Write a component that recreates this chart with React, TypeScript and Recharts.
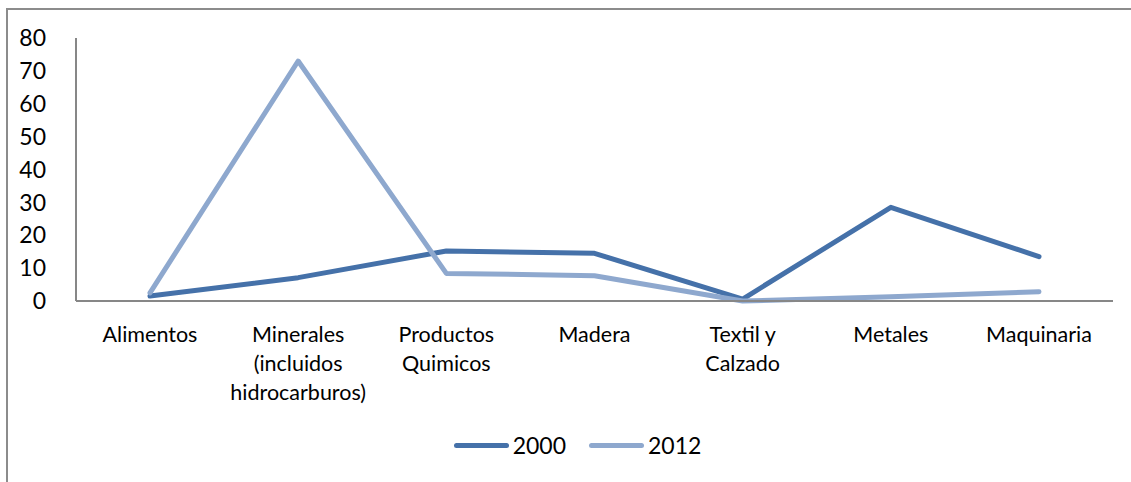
import React from 'react';
import { LineChart, Line, XAxis, YAxis } from 'recharts';

const categories = [
  'Alimentos',
  'Minerales\n(incluidos\nhidrocarburos)',
  'Productos\nQuimicos',
  'Madera',
  'Textil y\nCalzado',
  'Metales',
  'Maquinaria',
];
const values2000 = [1.5, 7.1, 15.2, 14.5, 0.6, 28.5, 13.5];
const values2012 = [2.5, 73, 8.4, 7.7, 0, 1.3, 2.8];
const yTicks = [0, 10, 20, 30, 40, 50, 60, 70, 80];

const seriesNames = ['2000', '2012'];
const colors = ['#4571A9', '#8EA8CE'];

const data = categories.map((name, i) => ({
  name,
  y2000: values2000[i],
  y2012: values2012[i],
}));

const FONT = 'Lato, "Open Sans", sans-serif';

const CategoryTick = ({ x, y, payload }: { x?: number; y?: number; payload?: { value: string } }) => {
  const lines = String(payload?.value ?? '').split('\n');
  return (
    <text x={x} y={(y ?? 0) + 33} textAnchor="middle" fontSize={21.5} fontFamily={FONT} fill="#000">
      {lines.map((l, i) => (
        <tspan key={`l-${i}`} x={x} dy={i === 0 ? 0 : 29}>
          {l}
        </tspan>
      ))}
    </text>
  );
};

// legend drawn as html under the plot
const ChartLegend = () => (
  <div
    style={{
      position: 'absolute', left: 0, top: 431, width: 1131,
      display: 'flex', justifyContent: 'center', alignItems: 'center',
      fontFamily: FONT, fontSize: 23, color: '#000', paddingLeft: 24, boxSizing: 'border-box',
    }}
  >
    {seriesNames.map((s, i) => (
      <div key={`lg-${s}`} style={{ display: 'flex', alignItems: 'center', marginLeft: i === 0 ? 0 : 23 }}>
        <span style={{ display: 'inline-block', width: 55, height: 5, borderRadius: 3, backgroundColor: colors[i], marginRight: 4 }} />
        <span>{s}</span>
      </div>
    ))}
  </div>
);

export default function App() {
  return (
    <div style={{ position: 'fixed', left: 0, top: 0, width: 1131, height: 482, background: '#fff', overflow: 'hidden' }}>
      <div style={{ position: 'absolute', left: 6, top: 8, width: 1200, height: 600, borderLeft: '2px solid #8c8c8c', borderTop: '2px solid #8c8c8c' }} />
      <div style={{ position: 'absolute', left: 0, top: 0 }}>
        <LineChart width={1131} height={482} data={data} margin={{ top: 38, right: 18, left: 0, bottom: 0 }}>
          <XAxis
            dataKey="name"
            axisLine={{ stroke: '#878787', strokeWidth: 2 }}
            tickLine={false}
            tick={<CategoryTick />}
            interval={0}
            padding={{ left: 74, right: 74 }}
            height={181}
          />
          <YAxis
            domain={[0, 80]}
            ticks={yTicks}
            interval={0}
            width={76}
            axisLine={{ stroke: '#878787', strokeWidth: 2 }}
            tickLine={false}
            tickMargin={24}
            tick={{ fontSize: 23, fontFamily: FONT, fill: '#000' }}
          />
          <Line dataKey="y2000" name="2000" stroke={colors[0]} strokeWidth={5} strokeLinecap="round" strokeLinejoin="round" dot={false} isAnimationActive={false} />
          <Line dataKey="y2012" name="2012" stroke={colors[1]} strokeWidth={5} strokeLinecap="round" strokeLinejoin="round" dot={false} isAnimationActive={false} />
        </LineChart>
      </div>
      <ChartLegend />
    </div>
  );
}
